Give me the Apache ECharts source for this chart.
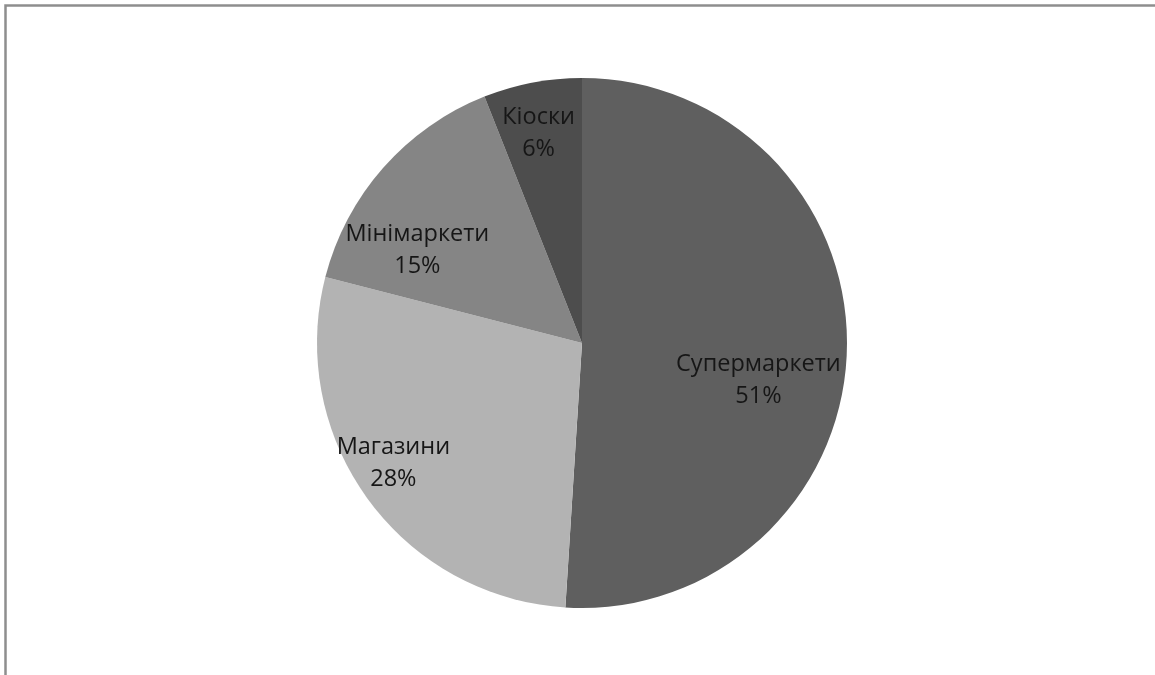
<!DOCTYPE html>
<html>
<head>
<meta charset="utf-8">
<script src="https://cdn.jsdelivr.net/npm/echarts@6/dist/echarts.min.js"></script>
<style>
  html, body { margin: 0; padding: 0; background: #ffffff; }
  #chart { width: 1155px; height: 675px; }
</style>
</head>
<body>
<div id="chart"></div>
<script>
// Retail channel shares (percent)
const categories = ['Супермаркети', 'Магазини', 'Мінімаркети', 'Кіоски'];
const shares = [51, 28, 15, 6];
const sliceColors = ['#5f5f5f', '#b3b3b3', '#858585', '#4d4d4d'];
// Nudges for the in-slice labels, away from the default half-radius spot
const labelOffsets = [[41, 33], [-79, 41], [-63, -3], [-18, -77]];

const chart = echarts.init(document.getElementById('chart'), null, { renderer: 'canvas' });

chart.setOption({
  backgroundColor: '#ffffff',
  animation: false,
  graphic: [{
    type: 'rect',
    shape: { x: 5.5, y: 5.5, width: 1300, height: 900 },
    style: { fill: 'none', stroke: '#8e8e8e', lineWidth: 2.5 },
    silent: true
  }],
  series: [{
    type: 'pie',
    center: [582, 343],
    radius: [0, 265],
    startAngle: 90,
    clockwise: true,
    avoidLabelOverlap: false,
    itemStyle: { borderWidth: 0 },
    label: {
      show: true,
      position: 'inside',
      formatter: '{b}\n{c}%',
      fontFamily: 'Open Sans',
      fontSize: 23.5,
      lineHeight: 32,
      color: '#161616',
      align: 'center'
    },
    labelLine: { show: false },
    emphasis: { disabled: true },
    data: categories.map((name, i) => ({
      name: name,
      value: shares[i],
      itemStyle: { color: sliceColors[i] },
      label: { offset: labelOffsets[i] }
    }))
  }]
});
</script>
</body>
</html>
